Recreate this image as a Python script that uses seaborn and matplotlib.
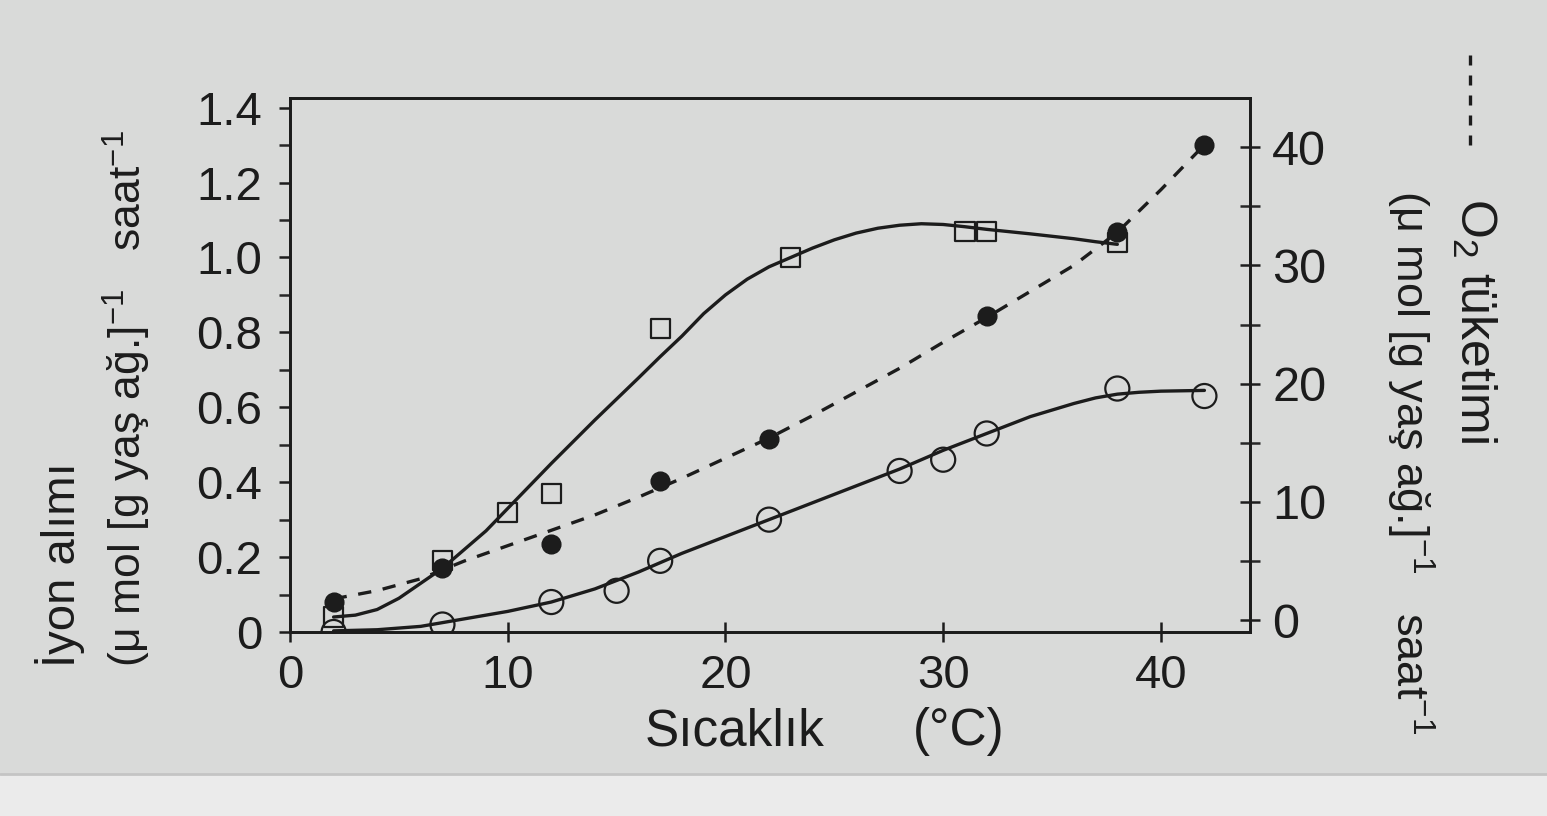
import matplotlib
matplotlib.use("Agg")
import matplotlib.pyplot as plt
from matplotlib.lines import Line2D
from matplotlib.patches import Rectangle
from matplotlib.ticker import MultipleLocator
import pandas as pd
import seaborn as sns

# measured points
sq_x = [2, 7, 10, 12, 17, 23, 31, 32, 38]
sq_y = [0.04, 0.19, 0.32, 0.37, 0.81, 1.00, 1.07, 1.07, 1.04]

oc_x = [2, 7, 12, 15, 17, 22, 28, 30, 32, 38, 42]
oc_y = [0.0, 0.02, 0.08, 0.11, 0.19, 0.30, 0.43, 0.46, 0.53, 0.65, 0.63]

o2_x = [2, 7, 12, 17, 22, 32, 38, 42]
o2_y = [1.5, 4.4, 6.4, 11.8, 15.3, 25.7, 32.8, 40.2]

# fitted curves
sq_fit_x = [2, 3, 4, 5, 6, 7, 8, 9, 10, 11, 12, 13, 14, 15, 16, 17, 18, 19, 20, 21,
            22, 23, 24, 25, 26, 27, 28, 29, 30, 31, 32, 34, 36, 37, 38]
sq_fit_y = [0.04, 0.045, 0.06, 0.09, 0.13, 0.17, 0.22, 0.27, 0.33, 0.39, 0.45, 0.508,
            0.566, 0.622, 0.678, 0.735, 0.79, 0.85, 0.9, 0.942, 0.975, 1.0, 1.025,
            1.047, 1.065, 1.078, 1.086, 1.09, 1.088, 1.082, 1.075, 1.063, 1.05, 1.042,
            1.035]

oc_fit_x = [2, 4, 6, 8, 10, 12, 14, 16, 18, 20, 22, 24, 26, 28, 30, 32, 34, 36, 37,
            38, 39, 40, 41, 42]
oc_fit_y = [0.003, 0.006, 0.015, 0.035, 0.055, 0.08, 0.115, 0.16, 0.21, 0.255, 0.30,
            0.345, 0.39, 0.435, 0.485, 0.53, 0.575, 0.61, 0.625, 0.635, 0.64, 0.643,
            0.644, 0.645]

o2_fit_x = [2, 4, 6, 8, 10, 12, 14, 16, 18, 20, 22, 24, 26, 28, 30, 32, 34, 36, 38, 40, 42]
o2_fit_y = [1.8, 2.5, 3.5, 5.0, 6.3, 7.6, 8.9, 10.4, 12.0, 13.7, 15.4, 17.3, 19.3,
            21.3, 23.5, 25.6, 27.8, 30.0, 32.8, 36.4, 40.2]

x_ticks = [0, 10, 20, 30, 40]
left_ticks = [0, 0.2, 0.4, 0.6, 0.8, 1.0, 1.2, 1.4]
left_labels = ["0", "0.2", "0.4", "0.6", "0.8", "1.0", "1.2", "1.4"]
right_ticks = [0, 10, 20, 30, 40]

sns.set_style("ticks")
plt.rcParams["font.family"] = ["Liberation Sans", "DejaVu Sans"]
plt.rcParams["mathtext.fontset"] = "custom"
plt.rcParams["mathtext.rm"] = "Liberation Sans"
plt.rcParams["mathtext.it"] = "Liberation Sans:italic"

paper = "#d9dad9"
ink = "#1c1c1c"

fig = plt.figure(figsize=(15.47, 8.16), dpi=100, facecolor=paper)
fig.add_artist(Rectangle((0, 0), 1, 0.052, transform=fig.transFigure,
                         facecolor="#ebebeb", edgecolor="none", zorder=0))
fig.add_artist(Line2D([0, 1], [0.052, 0.052], transform=fig.transFigure,
                      color="#c4c4c4", lw=2, zorder=0))

ax = fig.add_axes([0.1875, 0.2255, 0.6206, 0.655])
ax.set_facecolor("none")
ax2 = ax.twinx()
ax2.set_facecolor("none")

sq_fit = pd.DataFrame({"x": sq_fit_x, "y": sq_fit_y})
oc_fit = pd.DataFrame({"x": oc_fit_x, "y": oc_fit_y})
o2_fit = pd.DataFrame({"x": o2_fit_x, "y": o2_fit_y})

sns.lineplot(data=sq_fit, x="x", y="y", ax=ax, color=ink, lw=2.4)
sns.lineplot(data=oc_fit, x="x", y="y", ax=ax, color=ink, lw=2.4)
sns.lineplot(data=o2_fit, x="x", y="y", ax=ax2, color=ink, lw=2.4,
             linestyle=(0, (4, 3.5)))

sns.scatterplot(x=sq_x, y=sq_y, ax=ax, marker="s", s=190, facecolor="none",
                edgecolor=ink, linewidth=1.6, zorder=5)
sns.scatterplot(x=oc_x, y=oc_y, ax=ax, marker="o", s=300, facecolor="none",
                edgecolor=ink, linewidth=1.6, zorder=5)
sns.scatterplot(x=o2_x, y=o2_y, ax=ax2, marker="o", s=180, color=ink,
                edgecolor=ink, zorder=6)

ax.set_xlim(0, 44.1)
ax.set_ylim(0, 1.427)
ax2.set_ylim(-1.0, 44.2)

ax.set_xticks(x_ticks)
ax.set_yticks(left_ticks)
ax.set_yticklabels(left_labels)
ax.yaxis.set_minor_locator(MultipleLocator(0.1))
ax2.set_yticks(right_ticks)
ax2.yaxis.set_minor_locator(MultipleLocator(5))

ax.set_xlabel("")
ax.set_ylabel("")
ax2.set_ylabel("")

for a in (ax, ax2):
    for s in a.spines.values():
        s.set_linewidth(2)
        s.set_color(ink)

ax.tick_params(axis="x", direction="inout", length=14, width=1.8, pad=9,
               labelsize=34, colors=ink)
ax.tick_params(axis="y", which="major", direction="out", length=8, width=1.8,
               pad=12, labelsize=34, colors=ink)
ax.tick_params(axis="y", which="minor", direction="out", length=8, width=1.8)
ax2.tick_params(axis="y", which="major", direction="inout", length=14, width=1.8,
                pad=9, labelsize=35, colors=ink)
ax2.tick_params(axis="y", which="minor", direction="inout", length=14, width=1.8)

# axis titles
fig.text(645 / 1547, 1 - 732 / 816, "Sıcaklık", fontsize=37, color=ink,
         ha="left", va="center")
fig.text(913 / 1547, 1 - 732 / 816, "(°C)", fontsize=37, color=ink,
         ha="left", va="center")

fig.text(60 / 1547, 1 - 667 / 816, "İyon alımı", fontsize=34, color=ink,
         rotation=90, rotation_mode="anchor", ha="left", va="center")
fig.text(127 / 1547, 1 - 667 / 816,
         "(μ mol [g yaş ağ.]$^{-1}$   saat$^{-1}$", fontsize=32, color=ink,
         rotation=90, rotation_mode="anchor", ha="left", va="center")

fig.add_artist(Line2D([1470 / 1547, 1470 / 1547], [1 - 55 / 816, 1 - 150 / 816],
                      transform=fig.transFigure, color=ink, lw=2.4,
                      linestyle=(0, (3, 3))))
fig.text(1474 / 1547, 1 - 198 / 816, "O$_2$ tüketimi", fontsize=36, color=ink,
         rotation=-90, rotation_mode="anchor", ha="left", va="center")
fig.text(1410 / 1547, 1 - 190 / 816,
         "(μ mol [g yaş ağ.]$^{-1}$   saat$^{-1}$", fontsize=32.5, color=ink,
         rotation=-90, rotation_mode="anchor", ha="left", va="center")

fig.savefig("out.png", dpi=100, facecolor=paper)
